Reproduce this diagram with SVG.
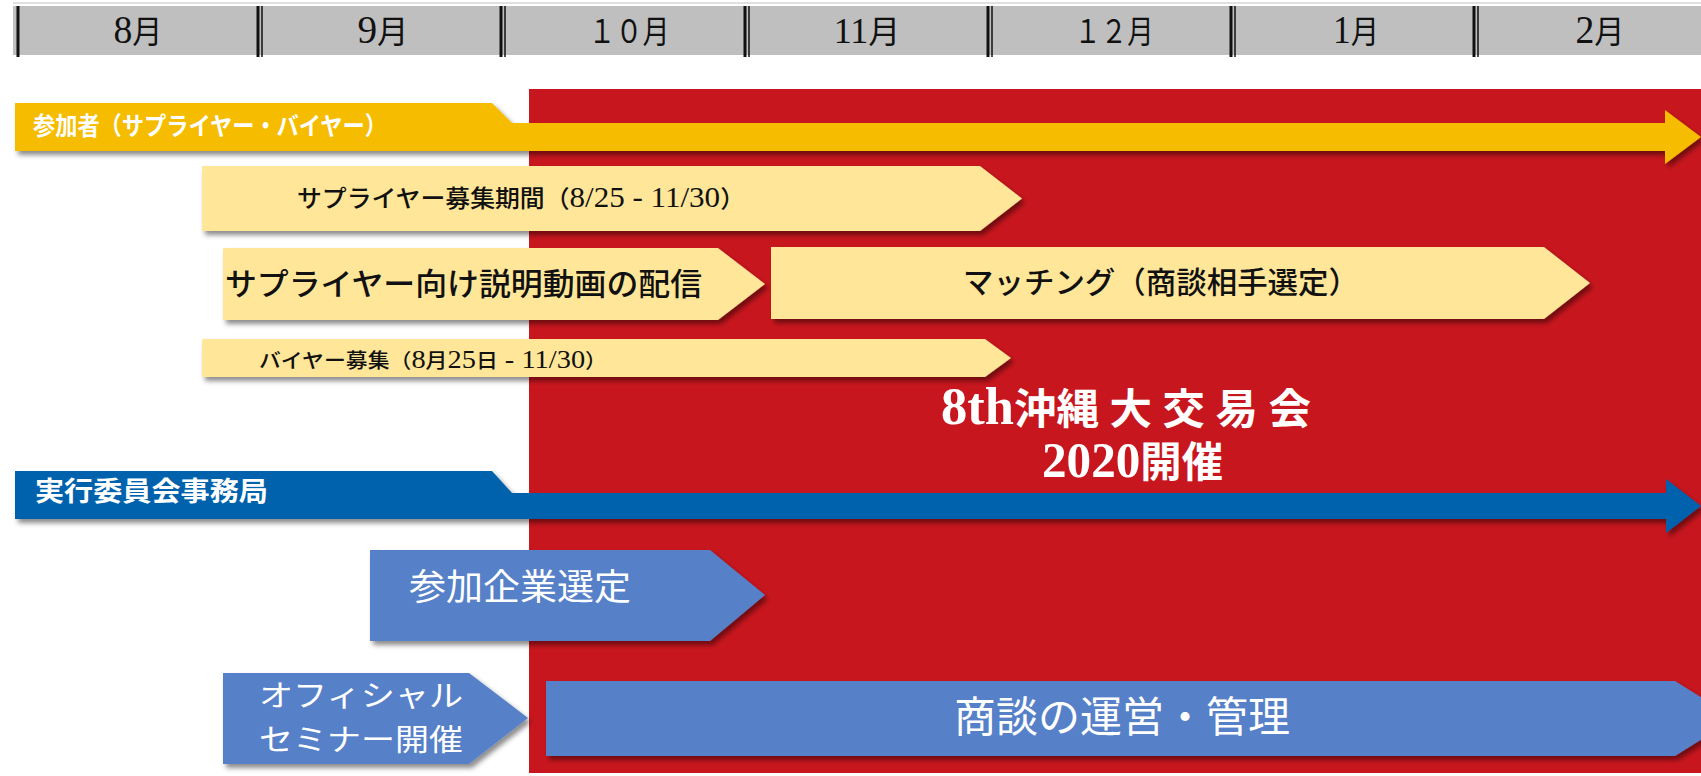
<svg xmlns="http://www.w3.org/2000/svg" width="1701" height="776" viewBox="0 0 1701 776">
<defs>
<filter id="sh" x="-5%" y="-20%" width="115%" height="160%">
<feDropShadow dx="3" dy="4" stdDeviation="2.5" flood-color="#000" flood-opacity="0.45"/>
</filter>
<style>
.mon{font-family:"Liberation Serif","Noto Sans CJK JP",serif;font-size:32px;fill:#111;text-anchor:middle}
.bk{font-family:"Liberation Serif","Noto Sans CJK JP",serif;fill:#111;font-weight:500}
.wt{font-family:"Liberation Serif","Noto Sans CJK JP",serif;fill:#fff}
.gw{font-family:"Noto Sans CJK JP","Liberation Sans",sans-serif;fill:#fff;font-weight:700}
.ly{fill:#FFE699;filter:url(#sh)}
.lb{fill:#5680C8;filter:url(#sh)}
.div1{stroke:#111;stroke-width:3}
.div2{stroke:#111;stroke-width:1.5}
</style>
</defs>
<rect width="1701" height="776" fill="#fff"/>
<g id="header">
<line x1="13" y1="3" x2="1701" y2="3" stroke="#d6d6d6" stroke-width="1.5"/>
<rect x="13" y="6" width="1688" height="49" fill="#BFBFBF"/>
<line class="div1" x1="18" y1="6" x2="18" y2="57"/>
<line class="div1" x1="258" y1="6" x2="258" y2="57"/><line class="div2" x1="262" y1="6" x2="262" y2="57"/>
<line class="div1" x1="501" y1="6" x2="501" y2="57"/><line class="div2" x1="505" y1="6" x2="505" y2="57"/>
<line class="div1" x1="745" y1="6" x2="745" y2="57"/><line class="div2" x1="749" y1="6" x2="749" y2="57"/>
<line class="div1" x1="988" y1="6" x2="988" y2="57"/><line class="div2" x1="992" y1="6" x2="992" y2="57"/>
<line class="div1" x1="1231" y1="6" x2="1231" y2="57"/><line class="div2" x1="1235" y1="6" x2="1235" y2="57"/>
<line class="div1" x1="1474" y1="6" x2="1474" y2="57"/><line class="div2" x1="1478" y1="6" x2="1478" y2="57"/>
<text class="mon" x="138" y="43" textLength="49" lengthAdjust="spacingAndGlyphs"><tspan font-size="40">8</tspan>月</text>
<text class="mon" x="383" y="43" textLength="51" lengthAdjust="spacingAndGlyphs"><tspan font-size="40">9</tspan>月</text>
<text class="mon" x="629" y="43" textLength="81" lengthAdjust="spacingAndGlyphs">１０月</text>
<text class="mon" x="867" y="43"><tspan font-size="36">11</tspan>月</text>
<text class="mon" x="1114" y="43" textLength="79" lengthAdjust="spacingAndGlyphs">１２月</text>
<text class="mon" x="1356" y="43" textLength="46" lengthAdjust="spacingAndGlyphs"><tspan font-size="40">1</tspan>月</text>
<text class="mon" x="1600" y="43" textLength="49" lengthAdjust="spacingAndGlyphs"><tspan font-size="40">2</tspan>月</text>
</g>
<g id="event-period">
<rect x="529" y="89" width="1172" height="684" fill="#C8161E"/>
<text class="wt" x="941" y="424" font-size="42" font-weight="700" textLength="370" lengthAdjust="spacingAndGlyphs"><tspan font-size="52">8th</tspan>沖縄 大 交 易 会</text>
<text class="wt" x="1042" y="477" font-size="42" font-weight="700" textLength="181" lengthAdjust="spacingAndGlyphs"><tspan font-size="50">2020</tspan>開催</text>
</g>
<g id="connectors">
<g id="participants-lane">
<path d="M15,103 L492,103 L512,123 L1665,123 L1665,110 L1701,137 L1665,164 L1665,151 L15,151 Z" fill="#F5BC00" filter="url(#sh)"/>
<text class="gw" x="33" y="135" font-size="25" textLength="354" lengthAdjust="spacingAndGlyphs">参加者（サプライヤー・バイヤー）</text>
</g>
<g id="secretariat-lane">
<path d="M15,471 L492,471 L512,493 L1666,493 L1666,479 L1701,506 L1666,533 L1666,519 L15,519 Z" fill="#0062AC" filter="url(#sh)"/>
<text class="gw" x="35" y="501" font-size="27" textLength="233" lengthAdjust="spacingAndGlyphs">実行委員会事務局</text>
</g>
</g>
<g id="supplier-recruit">
<path class="ly" d="M202,166 L980,166 L1022,198.5 L980,231 L202,231 Z"/>
<text class="bk" x="297" y="207" font-size="24" textLength="448" lengthAdjust="spacingAndGlyphs">サプライヤー募集期間（<tspan font-size="30">8/25 - 11/30</tspan>）</text>
</g>
<g id="supplier-video">
<path class="ly" d="M223,248 L718,248 L765,284 L718,320 L223,320 Z"/>
<text class="bk" x="225" y="295" font-size="31" textLength="477" lengthAdjust="spacingAndGlyphs">サプライヤー向け説明動画の配信</text>
</g>
<g id="matching">
<path class="ly" d="M771,247 L1544,247 L1590,283 L1544,319 L771,319 Z"/>
<text class="bk" x="963" y="293" font-size="30" textLength="396" lengthAdjust="spacingAndGlyphs">マッチング（商談相手選定）</text>
</g>
<g id="buyer-recruit">
<path class="ly" d="M202,339 L985,339 L1011,358 L985,377 L202,377 Z"/>
<text class="bk" x="259" y="368" font-size="20" textLength="348" lengthAdjust="spacingAndGlyphs">バイヤー募集（<tspan font-size="26">8</tspan>月<tspan font-size="26">25</tspan>日<tspan font-size="26"> - 11/30</tspan>）</text>
</g>
<g id="company-selection">
<path class="lb" d="M370,550 L710,550 L765,595 L710,641 L370,641 Z"/>
<text class="wt" x="409" y="600" font-size="36" textLength="222" lengthAdjust="spacingAndGlyphs">参加企業選定</text>
</g>
<g id="official-seminar">
<path class="lb" d="M223,673 L469,673 L528,718 L469,764 L223,764 Z"/>
<text class="wt" x="259" y="706" font-size="30" textLength="204" lengthAdjust="spacingAndGlyphs">オフィシャル</text>
<text class="wt" x="259" y="750" font-size="30" textLength="204" lengthAdjust="spacingAndGlyphs">セミナー開催</text>
</g>
<g id="meeting-management">
<path class="lb" d="M546,681 L1675,681 L1735,718.5 L1675,756 L546,756 Z"/>
<text class="wt" x="954" y="732" font-size="42" textLength="336" lengthAdjust="spacingAndGlyphs">商談の運営・管理</text>
</g>
</svg>
